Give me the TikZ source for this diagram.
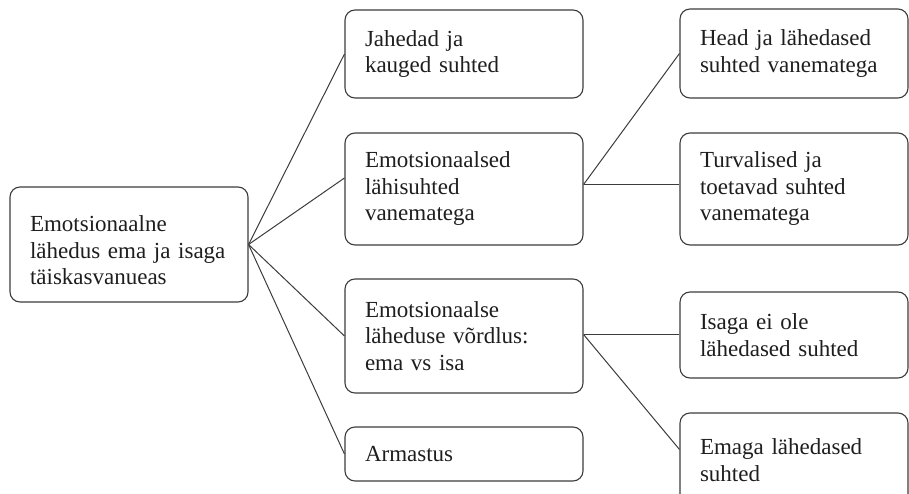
\documentclass[tikz,border=0pt]{standalone}
\usepackage{fontspec}
\setmainfont{Liberation Serif}
\definecolor{edge}{RGB}{60,60,60}
\definecolor{txt}{RGB}{30,30,30}
\tikzset{
  box/.style={draw=edge, line width=1.1pt, rounded corners=10pt, align=left,
    inner xsep=20pt, inner ysep=0pt, text=txt,
    font=\fontsize{23}{26.5}\selectfont},
  widebox/.style={box, text width=198pt, minimum height=#1},
  narrowbox/.style={box, text width=188pt, minimum height=#1},
  conn/.style={draw=edge, line width=1pt}
}
\begin{document}
\begin{tikzpicture}[x=1pt, y=-1pt]
\useasboundingbox (0,0) rectangle (909,494);
\clip (0,0) rectangle (909,494);
\node[widebox=115pt] (root) at (129,244.5) {\rule{0pt}{28pt}Emotsionaalne\\\mbox{lähedus ema ja isaga}\\täiskasvanueas};
\node[widebox=88pt]  (m1) at (464,54)  {Jahedad ja\\kauged suhted};
\node[widebox=112pt] (m2) at (464,189) {Emotsionaalsed\\lähisuhted\\vanematega};
\node[widebox=114pt] (m3) at (464,336) {Emotsionaalse\\läheduse võrdlus:\\ema vs isa};
\node[widebox=54pt]  (m4) at (464,454) {Armastus};
\node[narrowbox=89pt]  (r1) at (794,53.5) {Head ja lähedased\\suhted vanematega};
\node[narrowbox=112pt] (r2) at (794,189)  {Turvalised ja\\toetavad suhted\\vanematega};
\node[narrowbox=86pt]  (r3) at (794,335)  {Isaga ei ole\\lähedased suhted};
\node[narrowbox=94pt]  (r4) at (794,460)  {Emaga lähedased\\suhted};
\coordinate (j2) at ([yshift=4.5pt]m2.east);
\coordinate (j3) at ([yshift=1.5pt]m3.east);
\draw[conn] (root.east) -- (m1.west);
\draw[conn] (root.east) -- ([yshift=11pt]m2.west);
\draw[conn] (root.east) -- (m3.west);
\draw[conn] (root.east) -- (m4.west);
\draw[conn] (j2) -- (r1.west);
\draw[conn] (j2) -- (j2 -| r2.west);
\draw[conn] (j3) -- (j3 -| r3.west);
\draw[conn] (j3) -- ([yshift=-37pt]r4.north west);
\end{tikzpicture}
\end{document}
